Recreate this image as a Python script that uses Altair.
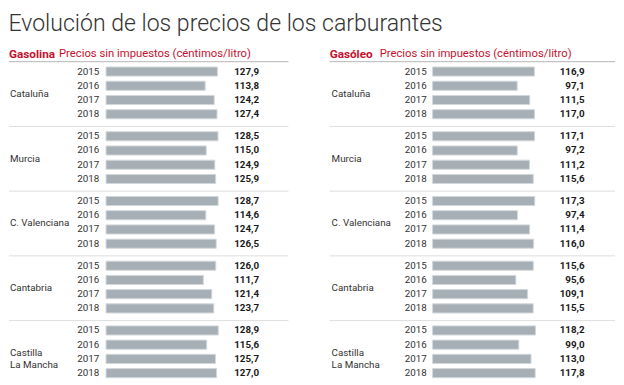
import altair as alt
import pandas as pd

title = "Evolución de los precios de los carburantes"
subtitle = "Precios sin impuestos (céntimos/litro)"
fuels = ["Gasolina", "Gasóleo"]
regions = ["Cataluña", "Murcia", "C. Valenciana", "Cantabria", "Castilla\nLa Mancha"]
years = ["2015", "2016", "2017", "2018"]
gasolina = [
    [127.9, 113.8, 124.2, 127.4],
    [128.5, 115.0, 124.9, 125.9],
    [128.7, 114.6, 124.7, 126.5],
    [126.0, 111.7, 121.4, 123.7],
    [128.9, 115.6, 125.7, 127.0],
]
gasoleo = [
    [116.9, 97.1, 111.5, 117.0],
    [117.1, 97.2, 111.2, 115.6],
    [117.3, 97.4, 111.4, 116.0],
    [115.6, 95.6, 109.1, 115.5],
    [118.2, 99.0, 113.0, 117.8],
]

FONT = "Roboto"
RED = "#c8102e"
BAR = "#a6afb5"


def frame(values):
    rows = []
    for r, vals in zip(regions, values):
        for y, v in zip(years, vals):
            rows.append({"region": r, "year": y, "value": v,
                         "label": f"{v:.1f}".replace(".", ",")})
    return pd.DataFrame(rows)


def panel(values, fuel, xleft, xregion, xsub, xyear, xval):
    df = frame(values)
    rdf = pd.DataFrame({"region": regions})
    yscale = alt.Scale(domain=regions, paddingInner=0, paddingOuter=0)
    yenc = alt.Y("region:N", sort=regions, scale=yscale, axis=None)
    yoff = alt.YOffset("year:N", sort=years,
                       scale=alt.Scale(domain=years, paddingInner=0.36,
                                       paddingOuter=0.455, align=0.41))
    base = alt.Chart(df)
    rules = alt.Chart(rdf).mark_rule(strokeWidth=1).encode(
        y=alt.Y("region:N", sort=regions, scale=yscale, axis=None, bandPosition=0),
        x=alt.value(xleft), x2=alt.value(186),
        color=alt.condition(f"datum.region == '{regions[0]}'",
                            alt.value("#b5b5b5"), alt.value("#dddddd")),
    )
    bars = base.mark_bar(color=BAR, stroke="#d2d7da", strokeWidth=1).encode(
        x=alt.X("value:Q", scale=alt.Scale(domain=[0, 209.5], nice=False, zero=True), axis=None),
        y=yenc, yOffset=yoff,
    )
    vals = base.mark_text(align="right", baseline="middle", font=FONT, fontSize=10,
                          fontWeight="bold", color="#1a1a1a").encode(
        x=alt.value(xval), y=yenc, yOffset=yoff, text="label:N")
    yrs = base.mark_text(align="right", baseline="middle", font=FONT, fontSize=10,
                         color="#333333").encode(
        x=alt.value(xyear), y=yenc, yOffset=yoff, text="year:N")
    regs = alt.Chart(rdf).mark_text(align="left", baseline="middle", font=FONT, fontSize=10,
                                    lineBreak="\n", lineHeight=12, color="#333333").encode(
        x=alt.value(xregion), y=yenc, text="region:N")
    hdf = pd.DataFrame({"fuel": [fuel], "sub": [subtitle]})
    head = alt.Chart(hdf).mark_text(align="left", baseline="middle", font=FONT, fontSize=12,
                                    fontWeight="bold", color=RED).encode(
        x=alt.value(xleft), y=alt.value(-8), text="fuel:N")
    sub = alt.Chart(hdf).mark_text(align="left", baseline="middle", font=FONT, fontSize=11.5,
                                   color=RED).encode(
        x=alt.value(xsub), y=alt.value(-8), text="sub:N")
    return alt.layer(rules, bars, vals, yrs, regs, head, sub).properties(width=186, height=330)


left = panel(gasolina, fuels[0], -99, -98, -48, -7, 156)
right = panel(gasoleo, fuels[1], -105, -103, -54, -6, 155)

chart = alt.hconcat(left, right, spacing=40).properties(
    padding=0,
    title=alt.TitleParams(title, anchor="start", font=FONT, fontSize=23.5,
                          fontWeight=300, color="#333333", offset=13),
).configure_view(stroke=None)

chart.save("out.html", embed_options={"renderer": "svg", "actions": False})
